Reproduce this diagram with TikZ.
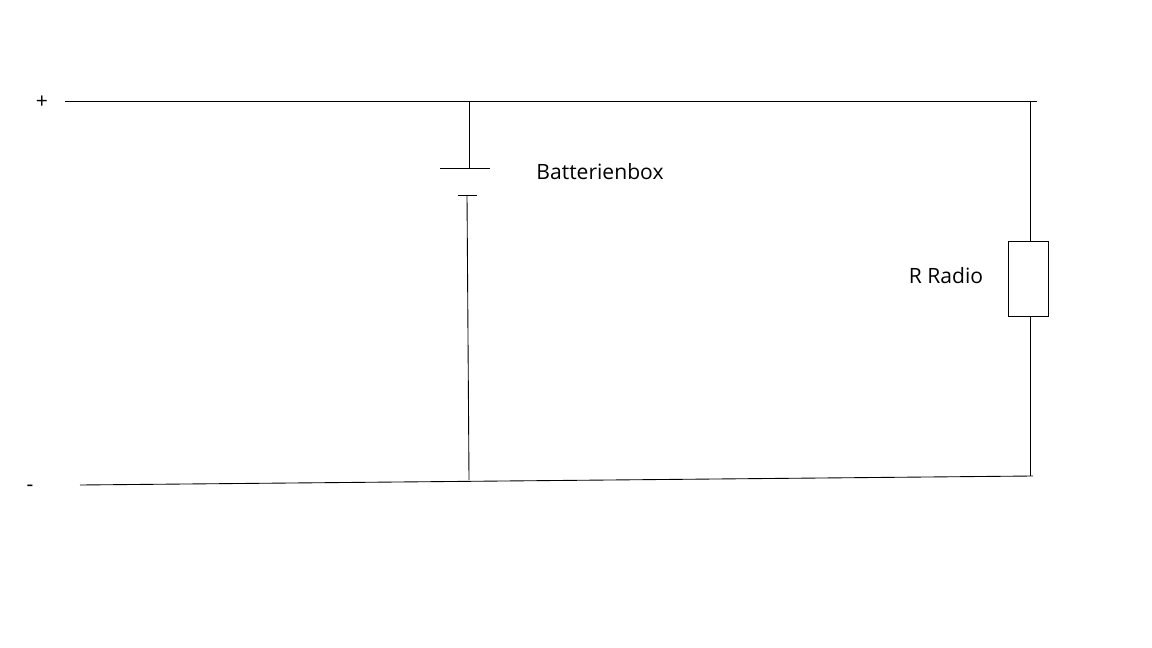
\documentclass[tikz,border=0pt]{standalone}
\usepackage{fontspec}
\setmainfont{Open Sans}
\begin{document}
\begin{tikzpicture}[x=0.02cm,y=-0.02cm,line width=0.5pt,
  lbl/.style={inner sep=0pt,font=\fontsize{12}{14}\selectfont}]
\useasboundingbox (0,0) rectangle (1152,648);
\coordinate (tl) at (65,101); \coordinate (tr) at (1037,101);
\coordinate (bl) at (80,485); \coordinate (br) at (1033,476);
\coordinate (bt) at (469,101); \coordinate (bb) at (469,480);
\coordinate (p1) at (469,168); \coordinate (p2) at (467,195);
\coordinate (rt) at (1030,101); \coordinate (rb) at (1030,476);
\node[lbl] (plus) at (42,102) {+};
\node[lbl] (minus) at (30,488) {-};
\draw (tl) -- (tr);
\draw (bl) -- (br);
\draw (bt) -- (p1);
\draw (440,168) -- (490,168);
\draw (458,195) -- (477,195);
\draw (p2) -- (bb);
\node[draw,minimum width=0.8cm,minimum height=1.5cm,inner sep=0pt] (res) at (1028,278.5) {};
\draw (rt) -- (res.north -| rt);
\draw (res.south -| rt) -- (rb);
\node[lbl] (batt) at (600,172) {Batterienbox};
\node[lbl] (radio) at (946,276) {R Radio};
\end{tikzpicture}
\end{document}
